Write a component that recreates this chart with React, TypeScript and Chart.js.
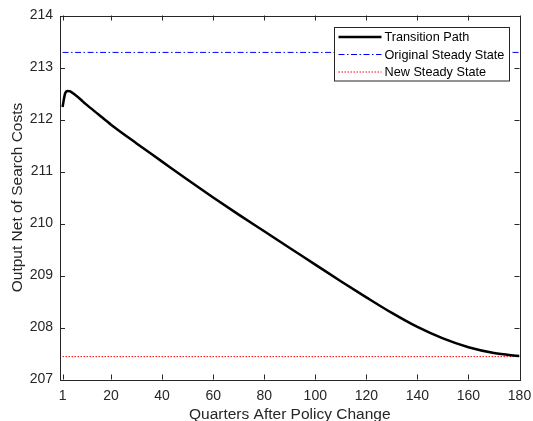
import React, { useEffect, useRef } from "react";
import { Chart, registerables } from "chart.js";

Chart.register(...registerables);

// ---- data ----
const quarters = [1, 2, 3, 4, 6, 8, 10, 15, 20, 30, 40, 50, 60, 70, 80, 90, 100, 110, 120, 130, 140, 150, 160, 170, 180];
const transitionPath = [212.24, 212.5, 212.55, 212.54, 212.47, 212.39, 212.3, 212.1, 211.9, 211.54, 211.19, 210.84, 210.5, 210.17, 209.85, 209.53, 209.21, 208.89, 208.58, 208.28, 208.01, 207.79, 207.62, 207.51, 207.45];
const steadyStateQuarters = [1, 180];
const originalSteadyState = 213.29;
const newSteadyState = 207.44;
const xTickValues = [1, 20, 40, 60, 80, 100, 120, 140, 160, 180];
const yTickValues = [207, 208, 209, 210, 211, 212, 213, 214];
const seriesLabels = ["Transition Path", "Original Steady State", "New Steady State"];
const xAxisTitle = "Quarters After Policy Change";
const yAxisTitle = "Output Net of Search Costs";

const FONT = "'Liberation Sans', Arial, Helvetica, sans-serif";
const AXIS_COLOR = "#262626";

const matlabPlugin = {
  id: "matlabBox",
  afterDraw(chart: any) {
    const { ctx, chartArea } = chart;
    const { left, right, top, bottom } = chartArea;
    const xs = chart.scales.x;
    const ys = chart.scales.y;
    ctx.save();
    ctx.strokeStyle = AXIS_COLOR;
    ctx.lineWidth = 1;
    ctx.setLineDash([]);
    ctx.strokeRect(Math.round(left) + 0.5, Math.round(top) + 0.5, Math.round(right - left), Math.round(bottom - top));
    const tl = 5;
    ctx.beginPath();
    xTickValues.forEach((v) => {
      const px = Math.round(xs.getPixelForValue(v)) + 0.5;
      ctx.moveTo(px, bottom);
      ctx.lineTo(px, bottom - tl);
      ctx.moveTo(px, top);
      ctx.lineTo(px, top + tl);
    });
    yTickValues.forEach((v) => {
      const py = Math.round(ys.getPixelForValue(v)) + 0.5;
      ctx.moveTo(left, py);
      ctx.lineTo(left + tl, py);
      ctx.moveTo(right, py);
      ctx.lineTo(right - tl, py);
    });
    ctx.stroke();

    // legend
    const lw = 175;
    const lh = 53.5;
    const lx = Math.round(right - 11 - lw) + 0.5;
    const ly = Math.round(top + 11) + 0.5;
    ctx.fillStyle = "#ffffff";
    ctx.fillRect(lx, ly, lw, lh);
    ctx.strokeStyle = AXIS_COLOR;
    ctx.lineWidth = 1;
    ctx.strokeRect(lx, ly, lw, lh);
    ctx.font = `12.7px ${FONT}`;
    ctx.textBaseline = "middle";
    ctx.textAlign = "left";
    chart.data.datasets.forEach((ds: any, i: number) => {
      const ry = ly + 9.5 + i * 17.5;
      ctx.beginPath();
      ctx.strokeStyle = ds.borderColor;
      ctx.lineWidth = ds.borderWidth;
      ctx.setLineDash(ds.borderDash || []);
      ctx.moveTo(lx + 4, ry);
      ctx.lineTo(lx + 47, ry);
      ctx.stroke();
      ctx.setLineDash([]);
      ctx.fillStyle = "#000000";
      ctx.fillText(ds.label, lx + 50, ry + 0.5);
    });
    ctx.restore();
  },
};

export default function App() {
  const ref = useRef<HTMLCanvasElement | null>(null);
  useEffect(() => {
    document.body.style.margin = "0";
    const canvas = ref.current!;
    const chart = new Chart(canvas, {
      type: "line",
      data: {
        datasets: [
          {
            label: seriesLabels[0],
            data: quarters.map((q, i) => ({ x: q, y: transitionPath[i] })),
            borderColor: "#000000",
            borderWidth: 2.5,
            pointRadius: 0,
            cubicInterpolationMode: "monotone",
            fill: false,
          },
          {
            label: seriesLabels[1],
            data: steadyStateQuarters.map((q) => ({ x: q, y: originalSteadyState })),
            borderColor: "#0000ff",
            borderWidth: 1,
            borderDash: [6, 2.5, 1.5, 2.5],
            pointRadius: 0,
            fill: false,
          },
          {
            label: seriesLabels[2],
            data: steadyStateQuarters.map((q) => ({ x: q, y: newSteadyState })),
            borderColor: "#ff0000",
            borderWidth: 1,
            borderDash: [1.5, 1.5],
            pointRadius: 0,
            fill: false,
          },
        ],
      },
      options: {
        animation: false,
        responsive: false,
        devicePixelRatio: 1,
        layout: { padding: { left: 0, right: 13.5, top: 15.5, bottom: 0 } },
        plugins: { legend: { display: false }, tooltip: { enabled: false } },
        scales: {
          x: {
            type: "linear",
            min: 0,
            max: 180,
            afterBuildTicks: (s: any) => {
              s.ticks = xTickValues.map((v) => ({ value: v }));
            },
            afterFit: (s: any) => {
              s.height = 50.5;
              s.paddingLeft = 0;
              s.paddingRight = 0;
            },
            grid: { display: false, drawTicks: false },
            border: { display: false },
            ticks: {
              autoSkip: false,
              maxRotation: 0,
              padding: 8,
              color: AXIS_COLOR,
              font: { family: FONT, size: 14 },
              callback: (v: any) => String(v),
            },
            title: {
              display: true,
              text: xAxisTitle,
              color: AXIS_COLOR,
              font: { family: FONT, size: 15.5, lineHeight: 1 },
              padding: { top: 0, bottom: 8 },
            },
          },
          y: {
            type: "linear",
            min: 207,
            max: 214,
            afterBuildTicks: (s: any) => {
              s.ticks = yTickValues.map((v) => ({ value: v }));
            },
            afterFit: (s: any) => {
              s.width = 60;
              s.paddingTop = 0;
              s.paddingBottom = 0;
            },
            grid: { display: false, drawTicks: false },
            border: { display: false },
            ticks: {
              padding: 7,
              color: AXIS_COLOR,
              font: { family: FONT, size: 14 },
              callback: (v: any) => String(v),
            },
            title: {
              display: true,
              text: yAxisTitle,
              color: AXIS_COLOR,
              font: { family: FONT, size: 15.5, lineHeight: 1.2 },
              padding: { top: 8.5, bottom: 0 },
            },
          },
        },
      },
      plugins: [matlabPlugin],
    } as any);
    return () => chart.destroy();
  }, []);
  return (
    <div style={{ width: 533, height: 421, overflow: "hidden", background: "#fff" }}>
      <canvas ref={ref} width={533} height={430} style={{ display: "block" }} />
    </div>
  );
}
